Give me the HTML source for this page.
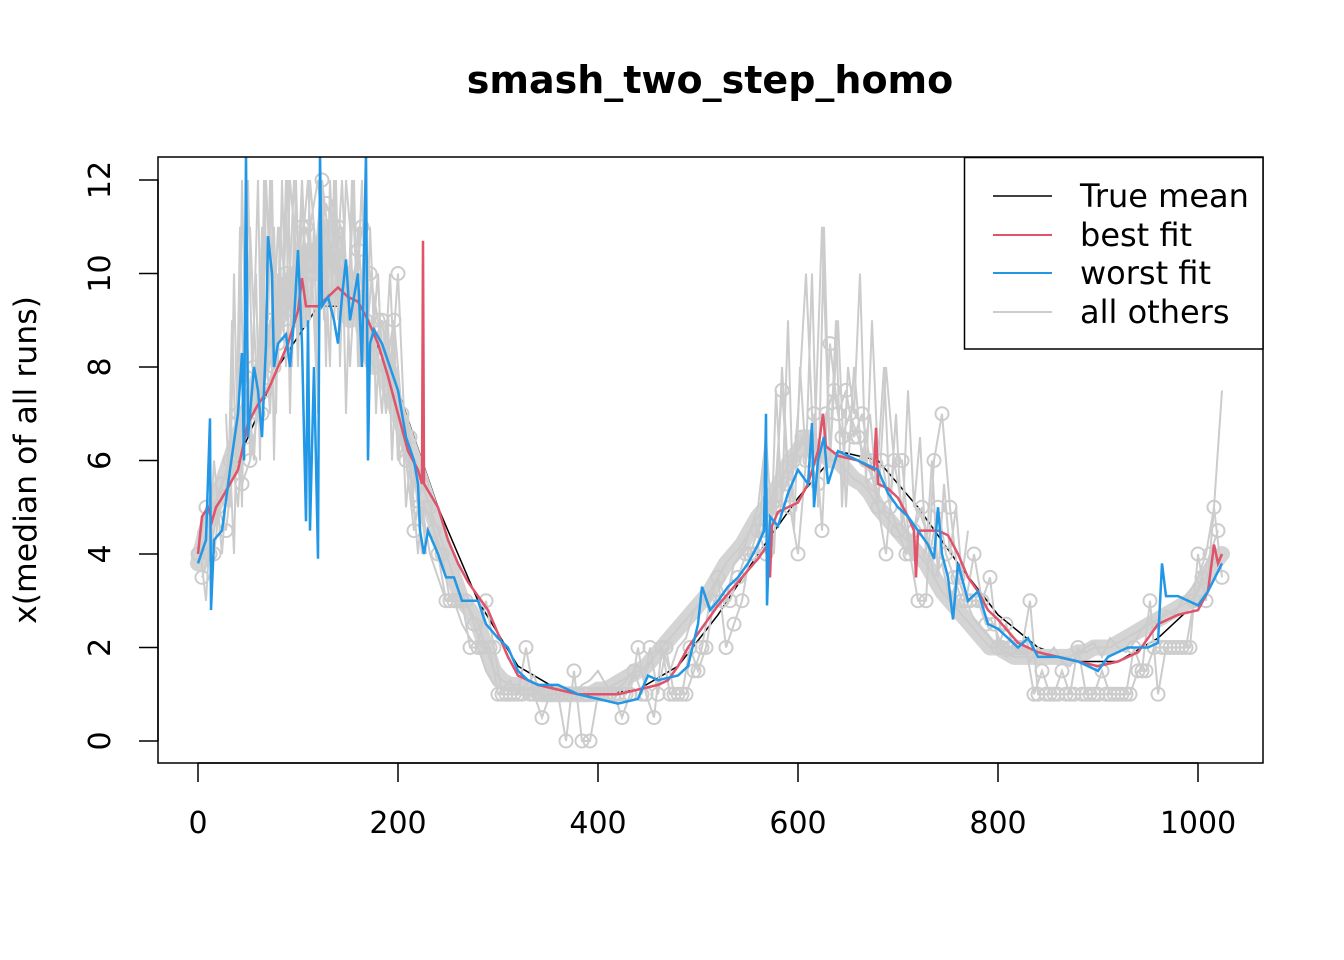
<!DOCTYPE html>
<html><head><meta charset="utf-8"><style>
html,body{margin:0;padding:0;background:#fff;}
svg{display:block;font-family:"DejaVu Sans","Liberation Sans",sans-serif;}
</style></head><body>
<svg id="chart" width="1344" height="960" viewBox="0 0 1344 960">
<text x="710" y="93" text-anchor="middle" font-size="38" font-weight="bold">smash_two_step_homo</text>
<g id="plot"></g>
<g id="axes"></g>
<text transform="translate(36,460) rotate(-90)" text-anchor="middle" font-size="31.5">x(median of all runs)</text>
<g>
<rect x="964.5" y="157.5" width="298.5" height="191.5" fill="#fff" stroke="#000" stroke-width="1.5"/>
<line x1="993" y1="196" x2="1052" y2="196" stroke="#000" stroke-width="1.5"/>
<text x="1080" y="207" font-size="32">True mean</text>
<line x1="993" y1="235" x2="1052" y2="235" stroke="#DF536B" stroke-width="2"/>
<text x="1080" y="246" font-size="32">best fit</text>
<line x1="993" y1="273" x2="1052" y2="273" stroke="#2297E6" stroke-width="2"/>
<text x="1080" y="284" font-size="32">worst fit</text>
<line x1="993" y1="312" x2="1052" y2="312" stroke="#CCCCCC" stroke-width="2"/>
<text x="1080" y="323" font-size="32">all others</text>
</g>
</svg>
<script>
const xTicks=[0,200,400,600,800,1000];
const yTicks=[0,2,4,6,8,10,12];
const circlesY=[4,5,4,5.5,6,7,6.5,8,7,9,8.5,10,9,11,10,10.5,11.5,11,10,9.5,10.5,9,8.5,9,7.5,10,6,4.5,5.5,5,4,3,3,3,2,2,3,2,1,1,1,2,1,0.5,1,1,0,1.5,0,0,1,1,1,0.5,1,2,1,0.5,2,1,1,1,1.5,2,3,3.5,2,2.5,3,4,4.5,4,5,7.5,5,4,6,7,4.5,8.5,7,7.5,6.5,7,6,5,4,6,6,4,3,3,6,7,5,3.5,3,4,3,3.5,2,2.5,2,2,3,1,1,1,1.5,1,2,1,1,1.5,1,1,1,2,1.5,3,1,2,2,2,2,4,3,5,3.5];
const circlesY2=[3.5,4,5,4.5,6,5.5,6,7, 7.5,8,9,9.5,10,11,10,12, 10.5,11,10,9.5,11,10,9,8, 9,7,6.5,5,5,4.5,4,3, 3,3,2.5,2,2,1,1,1, 1,1,1,1,1,1,1,1, 1,1,1,1,1,1,1.5,1, 2,1,2,1,1,2,1.5,2, 3,3,3,3.5,4,4,4.5,5, 5,5.5,6,6.5,6,5.5,7,7.5, 6.5,7,6.5,6,5.5,6,5,4.5, 4,4.5,5,4,5,4,3.5,3, 3,3,2.5,2.5,2,2,2,2, 1,1.5,1,1,1,1,1,1, 1,1,1,1,1,1.5,1.5,2, 2,2,2,2,3,3.5,4,4.5];
const othersA=[4.5,3,6,4,6.5,5,8,6, 10,7,11,8,12,9,11,12, 10,9,12,8,11,8,9,7, 10,6,6.5,5,5,4,3.5,3, 3,2.5,2.2,2,1.5,1.2,1.1,1.3, 1,1.2,1.4,0.9,1,1.2,1.1,1, 1.2,1.3,1.5,1.2,1,1.2,1.4,1.6, 1.5,1.8,2,1.5,2,2.2,2.8,3, 3.2,3.5,3,3.8,4,4.5,5,6.5, 4,8,5,7,10,6,11,6, 9,5,8,6,7,5,8,6, 5,4,5,4.5,3.5,3.8,3,3.5, 3,2.6,2.4,2.2,2,1.8,1.9,2, 1.7,2,1.8,2,1.7,1.6,1.9,2, 2.1,1.8,2.2,2,1.9,2.1,2.4,2.6, 2.5,2.8,2.7,3,3.2,3.5,4,5, 7.5];
const othersB=[3.8,4.5,5,5.5,6,6.5,7,7.5, 8,8.5,9,9.5,10,9,10.5,10, 11,9.5,10,9,9.5,8.5,8,8, 7.5,7,6.5,6,5.5,5,4.5,4, 3.5,3,2.8,2.5,2,1.5,1.3,1.2, 1.2,1.1,1.1,1,1,1,1,1, 1,1,1.1,1.1,1.2,1.3,1.4,1.5, 1.6,1.8,2,2.2,2.4,2.6,2.8,3, 3.2,3.5,3.8,4,4.2,4.5,4.8,5, 5.3,5.6,6,6.2,6.5,6.3,6.2,6, 6,5.8,5.6,5.5,5.3,5,4.8,4.6, 4.4,4.2,4,3.8,3.5,3.2,3,2.8, 2.6,2.4,2.2,2,2,1.9,1.8,1.8, 1.8,1.8,1.8,1.8,1.8,1.8,1.9,1.9, 2,2,2,2.1,2.2,2.3,2.4,2.5, 2.6,2.7,2.8,2.9,3,3.2,3.5,3.8, 4];
const othersC=[5,9,6,11,7,12,8,10,6,12,9,12,7,11,10,12,8,12,9,11,12,10,8,12,9,11,10,12,8,11,9,12,10,8,11,9,10,7,9,8,9,6,8,7,6,7,5,6,5,4.5];
const othersD=[6,4,8,5,10,6,9,7,11,8,12,6,10,9,12,7,11,8,12,10,9,11,7,12,10,8,12,9,11,7,10,12,8,9,11,8,9,10,8,7,8,9,6,7,5,6,5,4,5,4];
const othersE=[4,6,3.5,7.5,5,9,4.5,8,6,10,5,11,6,9,5,8,7,10,5.5,9,6,8,5,7,4.5,7.5,5,6.5,4,6,3.5,5.5,4,5,3.5,4.5];
const othersF=[7,5,10,6,12,8,11,9,12,7,12,10,11,8,12,9,12,11,10,12,9,12,11,10,12,8,12,10,11,9,12,11,9,10,12,8,11,9,10,8,9,7,8,6,7,6,6,5,5,4];
const trueX=[0,40,80,120,160,200,240,280,320,360,400,440,480,520,560,600,640,680,720,760,800,840,880,920,960,1000,1024];
const trueY=[4,6,8,9.3,9.3,7.5,5,3,1.6,1.1,1.0,1.1,1.6,2.7,4,5.2,6.2,6,5,3.8,2.7,2,1.7,1.7,2.2,3.0,4];
const bestX=[0,4,10,14,18,24,32,40,50,60,70,80,90,100,104,108,120,130,140,150,160,170,180,190,200,210,220,224,225,226,240,250,260,270,280,290,300,310,320,340,360,380,400,420,440,460,470,480,490,500,510,520,540,560,570,572,574,580,600,610,620,625,628,640,660,676,678,680,690,700,710,716,718,720,740,750,760,770,780,790,800,820,840,860,880,900,920,940,960,980,1000,1010,1016,1020,1024];
const bestY=[4,4.8,5,4.7,5,5.2,5.5,5.8,6.8,7.2,7.5,8,8.5,9.2,9.9,9.3,9.3,9.5,9.7,9.5,9.4,9,8.5,7.8,7,6.2,5.8,5.5,10.7,5.5,5,4.3,3.8,3.4,3.1,2.8,2.3,1.8,1.4,1.2,1.1,1,1,1,1.1,1.2,1.3,1.6,2,2.3,2.6,2.9,3.4,3.9,4.2,3.5,4.6,4.9,5.1,5.5,6.2,7,6.3,6.1,6,5.8,6.7,5.5,5.4,5.2,4.8,4.5,3.5,4.5,4.5,4.4,4,3.5,3.2,2.8,2.6,2.1,1.9,1.8,1.7,1.6,1.7,1.9,2.5,2.7,2.8,3.2,4.2,3.8,4];
const worstX=[0,8,12,13,16,24,32,40,44,46,48,50,56,60,64,68,70,74,76,80,88,92,96,100,104,108,110,112,116,120,122,124,130,136,140,144,148,152,160,164,168,170,172,176,184,192,200,208,216,220,222,226,230,240,248,256,264,280,288,300,310,320,330,340,360,380,400,420,440,450,460,480,490,500,504,512,520,530,540,550,560,566,568,569,572,580,590,600,610,614,616,620,626,630,640,660,680,690,700,710,720,730,736,740,744,750,755,760,770,780,790,800,810,820,830,840,860,880,900,910,930,950,960,964,968,980,1000,1010,1024];
const worstY=[3.8,4.3,6.9,2.8,4.3,4.5,5.8,7,8.3,6,12.6,6.5,8,7.5,6.5,8.5,10.8,10,8,8.5,8.7,8,9,10.5,8.5,4.7,9,4.5,8,3.9,12.6,9.3,9.5,9,8.5,9.5,10.3,9,10,8,12.6,6,8.5,8.8,8.5,8,7.5,6.5,6,5.5,4.5,4,4.5,4,3.5,3.5,3,3,2.5,2.2,2,1.5,1.3,1.2,1.2,1,0.9,0.8,0.9,1.4,1.3,1.4,1.6,2.5,3.3,2.8,3,3.3,3.5,3.8,4.2,4.5,7,2.9,4.8,4.6,5.3,5.8,5.5,6.8,5,6,6.5,5.5,6.2,6,5.8,5.3,5,4.8,4.5,4.2,3.9,5,4,3.5,2.6,3.8,3,3.2,2.5,2.4,2.2,2,2.2,1.8,1.8,1.7,1.5,1.8,2,2,2.1,3.8,3.1,3.1,2.9,3.2,3.8];

const NS='http://www.w3.org/2000/svg';
const X0=158,X1=1263,Y0=157,Y1=763;
function sx(v){return 198+v*1.0;}
function sy(v){return 741-v*46.75;}
function mk(tag,attrs,parent){const e=document.createElementNS(NS,tag);for(const k in attrs)e.setAttribute(k,attrs[k]);parent.appendChild(e);return e;}
const plot=document.getElementById('plot');
const axes=document.getElementById('axes');
const defs=mk('defs',{},plot);
const cp=mk('clipPath',{id:'clip'},defs);
mk('rect',{x:X0,y:Y0,width:X1-X0,height:Y1-Y0},cp);
const g=mk('g',{'clip-path':'url(#clip)'},plot);
function stepPath(arr,start,step){return arr.map((v,i)=>(i?'L':'M')+sx(start+i*step).toFixed(1)+','+sy(v).toFixed(1)).join('');}
function xyPath(xs,ys){return xs.map((v,i)=>(i?'L':'M')+sx(v).toFixed(1)+','+sy(ys[i]).toFixed(1)).join('');}
const tl=mk('path',{d:xyPath(trueX,trueY),fill:'none',stroke:'#000','stroke-width':1.5},g);


const band=mk('path',{d:stepPath(othersB,0,8),fill:'none',stroke:'#D4D4D4','stroke-width':16,'stroke-linejoin':'round','stroke-linecap':'round'},g);


const greys=[[othersA,0,8],[othersB,0,8],[othersC,30,4],[othersD,32,4],[othersF,28,4],[othersE,560,6],[circlesY,0,8],[circlesY2,4,8]];
greys.forEach((s,i)=>{
  const p=mk('path',{d:stepPath(s[0],s[1],s[2]),fill:'none',stroke:'#CCCCCC','stroke-width':2},g);
  
  
});
[[circlesY,0],[circlesY2,4]].forEach(s=>{
  s[0].forEach((v,i)=>{
    const c=mk('circle',{cx:sx(s[1]+i*8),cy:sy(v),r:6.5,fill:'none',stroke:'#CCCCCC','stroke-width':2},g);
    
    
  });
});
const bl=mk('path',{d:xyPath(bestX,bestY),fill:'none',stroke:'#DF536B','stroke-width':2.5},g);


const wl=mk('path',{d:xyPath(worstX,worstY),fill:'none',stroke:'#2297E6','stroke-width':2.5},g);


const box=mk('rect',{x:X0,y:Y0,width:X1-X0,height:Y1-Y0,fill:'none',stroke:'#000','stroke-width':1.5},axes);


mk('line',{x1:sx(0),x2:sx(1000),y1:Y1,y2:Y1,stroke:'#000','stroke-width':1.5},axes);
xTicks.forEach(t=>{
  mk('line',{x1:sx(t),x2:sx(t),y1:Y1,y2:Y1+19,stroke:'#000','stroke-width':1.5},axes);
  const tx=mk('text',{x:sx(t),y:833,'text-anchor':'middle','font-size':30},axes);
  tx.textContent=t;
  
  
});
mk('line',{x1:X0,x2:X0,y1:sy(0),y2:sy(12),stroke:'#000','stroke-width':1.5},axes);
yTicks.forEach(t=>{
  mk('line',{x1:X0,x2:X0-19,y1:sy(t),y2:sy(t),stroke:'#000','stroke-width':1.5},axes);
  const tx=mk('text',{transform:'translate(110,'+sy(t)+') rotate(-90)','text-anchor':'middle','font-size':30},axes);
  tx.textContent=t;
  
  
});
</script>
</body></html>
